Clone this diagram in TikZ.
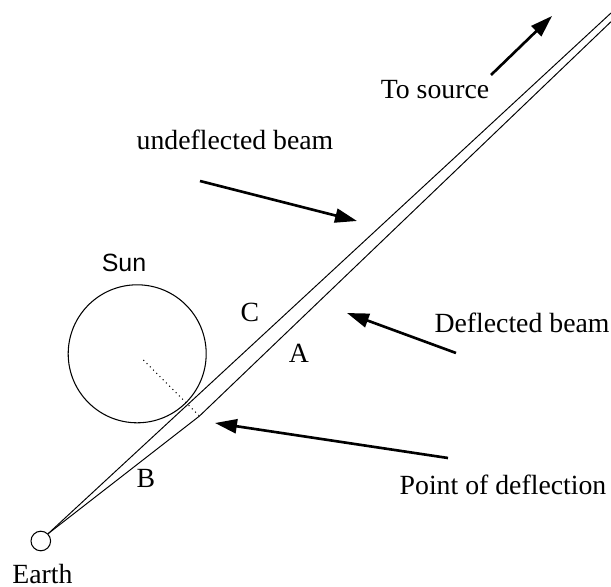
\documentclass[tikz,border=0pt]{standalone}
\usepackage{fontspec}
\setmainfont{Liberation Serif}
\newfontfamily\sunfont{Liberation Sans}
\usetikzlibrary{arrows.meta, calc}

\begin{document}
\begin{tikzpicture}[x=0.02cm, y=-0.02cm,
    beam/.style={line width=0.55pt},
    pointer/.style={line width=1.5pt, -{Triangle[length=12.5pt, width=8pt]}},
    lbl/.style={font=\fontsize{15.8}{19}\selectfont, inner sep=0pt}]
    % Fix the page to the size of the reference
    \useasboundingbox (0,0) rectangle (611,587);

    % Earth and Sun
    \node[circle, draw, line width=0.6pt, inner sep=0pt, minimum size=19.6*0.02cm] (earth) at (40.8,541) {};
    \node[circle, draw, line width=0.6pt, inner sep=0pt, minimum size=138*0.02cm] (sun) at (137.2,353.8) {};

    % Points where the beams go out of the picture and the bend
    \coordinate (src1) at (611,13);
    \coordinate (src2) at (611,21.7);
    \coordinate (deflect) at (199.5,416);

    % Undeflected beam, straight and grazing the Sun
    \draw[beam] (earth.45) -- (src1);
    % Deflected beam with its bend
    \draw[beam] (earth.45) -- (deflect) -- (src2);
    % Dotted radius to the point of deflection
    \draw[dotted, line width=0.6pt] ($(sun.center)!0.1!(deflect)$) -- (deflect);

    % Labels
    \node[lbl] (tosource) at (435,90) {To source};
    \node[lbl] (undefl) at (235,140) {undeflected beam};
    \node[lbl] (defl) at (522,323) {Deflected beam};
    \node[lbl] (point) at (503,485) {Point of deflection};
    \node[lbl, font=\sunfont\fontsize{14.2}{17}\selectfont] (sunlbl) at (124,263) {Sun};
    \node[lbl] (C) at (250,312) {C};
    \node[lbl] (A) at (299,353) {A};
    \node[lbl] (B) at (146,478) {B};
    \node[lbl] (earthlbl) at (42.5,574) {Earth};

    % Pointer arrows
    \coordinate (p1a) at (491,75);   \coordinate (p1b) at (552,16);
    \coordinate (p2a) at (200,181);  \coordinate (p2b) at (357,221);
    \coordinate (p3a) at (456,353);  \coordinate (p3b) at (347,313);
    \coordinate (p4a) at (448,458);  \coordinate (p4b) at (215,423);
    \draw[pointer] (p1a) -- (p1b);
    \draw[pointer] (p2a) -- (p2b);
    \draw[pointer] (p3a) -- (p3b);
    \draw[pointer] (p4a) -- (p4b);
\end{tikzpicture}
\end{document}
